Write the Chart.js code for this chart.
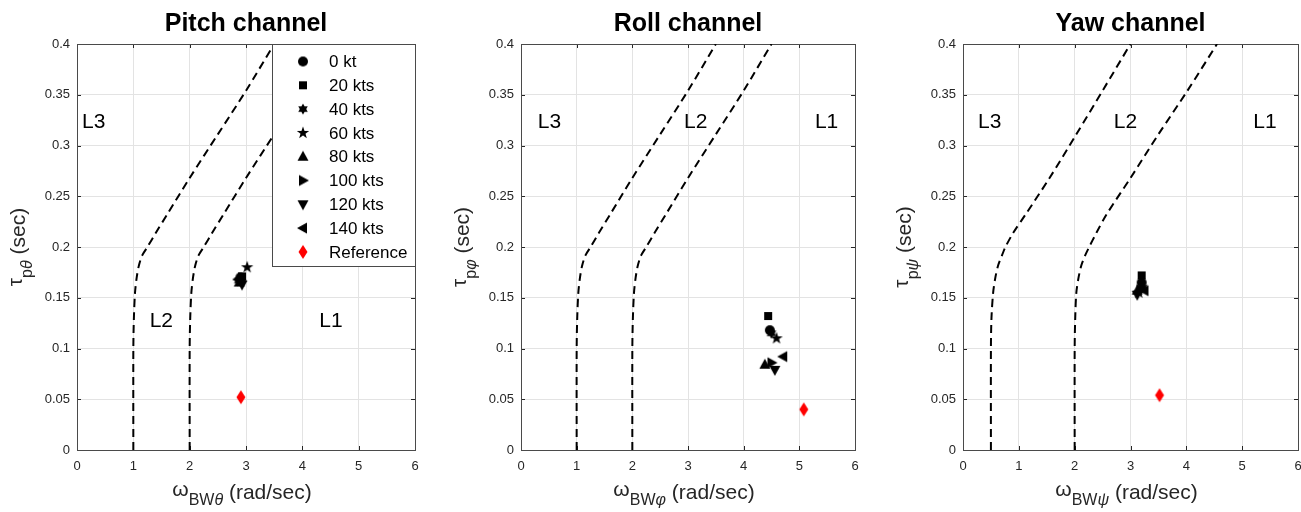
<!DOCTYPE html>
<html>
<head>
<meta charset="utf-8">
<script src="https://cdn.jsdelivr.net/npm/chart.js@4.4.0/dist/chart.umd.min.js"></script>
<style>
  html, body { margin: 0; padding: 0; background: #fff; }
  body { width: 1301px; height: 512px; position: relative; overflow: hidden; }
  .panel { position: absolute; top: 0; height: 512px; }
</style>
</head>
<body>
<div class="panel" style="left:0;width:430px"><canvas id="pitchChart" width="430" height="512"></canvas></div>
<div class="panel" style="left:440px;width:430px"><canvas id="rollChart" width="430" height="512"></canvas></div>
<div class="panel" style="left:880px;width:433px"><canvas id="yawChart" width="433" height="512"></canvas></div>
<script>
// flight speeds (one marker each)
const speedLabels = ['0 kt', '20 kts', '40 kts', '60 kts', '80 kts', '100 kts', '120 kts', '140 kts'];
const speedShapes = ['circle', 'square', 'hexagram', 'pentagram', 'triUp', 'triRight', 'triDown', 'triLeft'];

// bandwidth (rad/sec) and phase delay (sec) per speed
const pitchBW = [2.90, 2.93, 2.87, 3.02, 2.88, 2.91, 2.93, 2.86];
const pitchTau = [0.170, 0.171, 0.167, 0.180, 0.165, 0.167, 0.163, 0.168];
const rollBW = [4.47, 4.44, 4.50, 4.59, 4.38, 4.50, 4.56, 4.71];
const rollTau = [0.118, 0.132, 0.115, 0.110, 0.084, 0.086, 0.079, 0.092];
const yawBW = [3.20, 3.20, 3.22, 3.15, 3.12, 3.18, 3.12, 3.25];
const yawTau = [0.165, 0.172, 0.160, 0.155, 0.157, 0.158, 0.153, 0.157];

// reference point: pitch, roll, yaw
const refBW = [2.91, 5.08, 3.52];
const refTau = [0.052, 0.040, 0.054];

// level boundaries, x read at these tau values
const boundaryTau = [0, 0.10, 0.13, 0.155, 0.17, 0.182, 0.192, 0.20, 0.214, 0.232, 0.268, 0.311, 0.354, 0.40];
const pitchL3L2 = [1, 1, 1.01, 1.03, 1.06, 1.10, 1.16, 1.25, 1.40, 1.60, 2.0, 2.5, 3.0, 3.5];
const pitchL2L1 = [2, 2, 2.01, 2.03, 2.06, 2.10, 2.16, 2.25, 2.40, 2.60, 3.0, 3.5, 4.0, 4.5];
const rollL3L2 = [1, 1, 1.01, 1.03, 1.06, 1.10, 1.16, 1.25, 1.40, 1.60, 2.0, 2.5, 3.0, 3.5];
const rollL2L1 = [2, 2, 2.01, 2.03, 2.06, 2.10, 2.16, 2.25, 2.40, 2.60, 3.0, 3.5, 4.0, 4.5];
const yawL3L2 = [0.5, 0.5, 0.51, 0.54, 0.58, 0.63, 0.70, 0.76, 0.90, 1.12, 1.55, 2.03, 2.5, 3.0];
const yawL2L1 = [2, 2, 2.01, 2.03, 2.07, 2.12, 2.19, 2.26, 2.39, 2.57, 3.0, 3.5, 4.02, 4.55];

const xTicks = [0, 1, 2, 3, 4, 5, 6];
const yTicks = [0, 0.05, 0.1, 0.15, 0.2, 0.25, 0.3, 0.35, 0.4];

const FONT = '"Liberation Sans", Arial, Helvetica, sans-serif';
const INK = '#262626';

function makeMarker(shape, color) {
    const c = document.createElement('canvas');
    c.width = 16; c.height = 16;
    const g = c.getContext('2d');
    g.fillStyle = color;
    g.translate(8, 8);
    g.beginPath();
    const star = (n, ro, ri) => {
        for (let i = 0; i < 2 * n; i++) {
            const a = -Math.PI / 2 + i * Math.PI / n;
            const r = i % 2 ? ri : ro;
            g.lineTo(r * Math.cos(a), r * Math.sin(a));
        }
        g.closePath();
    };
    const poly = pts => { pts.forEach(p => g.lineTo(p[0], p[1])); g.closePath(); };
    switch (shape) {
        case 'circle': g.arc(0, 0, 5, 0, Math.PI * 2); break;
        case 'square': g.rect(-4, -4, 8, 8); break;
        case 'hexagram': star(6, 5.5, 3.2); break;
        case 'pentagram': star(5, 6.5, 2.6); break;
        case 'triUp': poly([[0, -6], [5.5, 4], [-5.5, 4]]); break;
        case 'triDown': poly([[0, 6], [5.5, -4], [-5.5, -4]]); break;
        case 'triRight': poly([[6, 0], [-4, -5.5], [-4, 5.5]]); break;
        case 'triLeft': poly([[-6, 0], [4, -5.5], [4, 5.5]]); break;
        case 'diamond': poly([[0, -7], [4.5, 0], [0, 7], [-4.5, 0]]); break;
    }
    g.fill();
    return c;
}

const speedMarkers = speedShapes.map(s => makeMarker(s, '#000'));
const refMarker = makeMarker('diamond', '#ff0000');

// draws a run of text pieces (main text + subscripts) centred on 0
function drawRich(ctx, parts) {
    let total = 0;
    parts.forEach(p => { ctx.font = p.font; p.w = ctx.measureText(p.t).width; total += p.w; });
    let x = -total / 2;
    parts.forEach(p => {
        ctx.font = p.font;
        ctx.fillText(p.t, x, p.dy || 0);
        x += p.w;
    });
}

const decorPlugin = {
    id: 'decor',
    beforeDatasetsDraw(chart, args, opts) {
        const ctx = chart.ctx;
        const a = chart.chartArea;
        const xs = chart.scales.x, ys = chart.scales.y;
        ctx.save();
        ctx.strokeStyle = INK;
        ctx.lineWidth = 1;
        ctx.beginPath();
        xTicks.forEach(v => {
            const px = Math.round(xs.getPixelForValue(v)) + 0.5;
            ctx.moveTo(px, a.bottom); ctx.lineTo(px, a.bottom - 4);
            ctx.moveTo(px, a.top); ctx.lineTo(px, a.top + 4);
        });
        yTicks.forEach(v => {
            const py = Math.round(ys.getPixelForValue(v)) + 0.5;
            ctx.moveTo(a.left, py); ctx.lineTo(a.left + 4, py);
            ctx.moveTo(a.right, py); ctx.lineTo(a.right - 4, py);
        });
        ctx.stroke();
        ctx.strokeStyle = '#4a4a4a';
        ctx.strokeRect(Math.round(a.left) + 0.5, Math.round(a.top) + 0.5,
            Math.round(a.right - a.left), Math.round(a.bottom - a.top));
        ctx.restore();
    },
    afterDraw(chart, args, opts) {
        const ctx = chart.ctx;
        const a = chart.chartArea;
        const xs = chart.scales.x, ys = chart.scales.y;
        const cx = (a.left + a.right) / 2;
        ctx.save();
        ctx.fillStyle = '#000';
        ctx.textBaseline = 'alphabetic';

        // title
        ctx.textAlign = 'center';
        ctx.font = 'bold 25px ' + FONT;
        ctx.fillText(opts.title, cx, 31);

        // level labels
        ctx.font = '21px ' + FONT;
        ctx.textAlign = 'left';
        ctx.textBaseline = 'middle';
        opts.levels.forEach(l => {
            ctx.fillText(l.t, xs.getPixelForValue(l.x), ys.getPixelForValue(l.y));
        });
        ctx.textBaseline = 'alphabetic';
        ctx.textAlign = 'left';

        // x axis label
        ctx.fillStyle = INK;
        ctx.save();
        ctx.translate(cx - 4, 499);
        drawRich(ctx, [
            { t: 'ω', font: '21px ' + FONT, dy: -3 },
            { t: 'BW', font: '16px ' + FONT, dy: 6 },
            { t: opts.sym, font: 'italic 16px ' + FONT, dy: 6 },
            { t: ' (rad/sec)', font: '21px ' + FONT, dy: 0 }
        ]);
        ctx.restore();

        // y axis label
        ctx.save();
        ctx.translate(a.left - 52, (a.top + a.bottom) / 2);
        ctx.rotate(-Math.PI / 2);
        drawRich(ctx, [
            { t: 'τ', font: '21px ' + FONT, dy: -3 },
            { t: 'p', font: '16px ' + FONT, dy: 7 },
            { t: opts.sym, font: 'italic 16px ' + FONT, dy: 7 },
            { t: ' (sec)', font: '21px ' + FONT, dy: 0 }
        ]);
        ctx.restore();

        // legend box
        if (opts.legend) {
            const w = 143, h = 222;
            const lx = Math.round(a.right) - w, ly = Math.round(a.top);
            ctx.fillStyle = '#fff';
            ctx.fillRect(lx, ly, w, h);
            ctx.strokeStyle = '#4a4a4a';
            ctx.lineWidth = 1;
            ctx.strokeRect(lx + 0.5, ly + 0.5, w, h);
            ctx.font = '17px ' + FONT;
            ctx.fillStyle = '#000';
            ctx.textBaseline = 'middle';
            const labels = speedLabels.concat(['Reference']);
            const marks = speedMarkers.concat([refMarker]);
            labels.forEach((t, i) => {
                const ry = ly + 17.5 + i * 23.8;
                ctx.drawImage(marks[i], lx + 31 - 8, ry - 8);
                ctx.fillText(t, lx + 57, ry + 1);
            });
        }
        ctx.restore();
    }
};

function pts(xv, yv) {
    return xv.map((x, i) => ({ x: x, y: yv[i] }));
}

function buildChart(canvasId, cfg) {
    const datasets = [];
    cfg.boundaries.forEach(b => {
        datasets.push({
            data: pts(b, boundaryTau),
            showLine: true,
            borderColor: '#000',
            borderWidth: 2,
            borderDash: [8, 5],
            pointRadius: 0,
            tension: 0.3,
            order: 3
        });
    });
    speedLabels.forEach((lab, i) => {
        datasets.push({
            label: lab,
            data: [{ x: cfg.bw[i], y: cfg.tau[i] }],
            pointStyle: speedMarkers[i],
            pointRadius: 5,
            order: 2
        });
    });
    datasets.push({
        label: 'Reference',
        data: [{ x: refBW[cfg.ref], y: refTau[cfg.ref] }],
        pointStyle: refMarker,
        pointRadius: 5,
        order: 1
    });

    return new Chart(document.getElementById(canvasId).getContext('2d'), {
        type: 'scatter',
        data: { datasets: datasets },
        options: {
            responsive: false,
            animation: false,
            devicePixelRatio: 1,
            layout: { padding: { top: 44, right: cfg.padRight, left: 0, bottom: 0 } },
            plugins: {
                legend: { display: false },
                tooltip: { enabled: false },
                decor: cfg.decor
            },
            scales: {
                x: {
                    type: 'linear', min: 0, max: 6,
                    afterBuildTicks: s => { s.ticks = xTicks.map(v => ({ value: v })); },
                    afterFit: s => { s.height = 62; s.paddingLeft = 0; s.paddingRight = 0; },
                    grid: { color: '#e3e3e3', drawTicks: false },
                    border: { display: false },
                    ticks: { padding: 9, color: INK, font: { family: FONT, size: 13 }, maxRotation: 0 }
                },
                y: {
                    type: 'linear', min: 0, max: 0.4,
                    afterBuildTicks: s => { s.ticks = yTicks.map(v => ({ value: v })); },
                    afterFit: s => { s.width = cfg.yWidth; s.paddingTop = 0; s.paddingBottom = 0; },
                    grid: { color: '#e3e3e3', drawTicks: false },
                    border: { display: false },
                    ticks: {
                        padding: 7, color: INK, font: { family: FONT, size: 13 },
                        callback: v => String(Number(v.toFixed(2)))
                    }
                }
            }
        },
        plugins: [decorPlugin]
    });
}

buildChart('pitchChart', {
    bw: pitchBW, tau: pitchTau, ref: 0,
    boundaries: [pitchL3L2, pitchL2L1],
    yWidth: 77, padRight: 15,
    decor: {
        title: 'Pitch channel', sym: 'θ', legend: true,
        levels: [{ t: 'L3', x: 0.09, y: 0.323 }, { t: 'L2', x: 1.29, y: 0.127 }, { t: 'L1', x: 4.3, y: 0.127 }]
    }
});

buildChart('rollChart', {
    bw: rollBW, tau: rollTau, ref: 1,
    boundaries: [rollL3L2, rollL2L1],
    yWidth: 81, padRight: 15,
    decor: {
        title: 'Roll channel', sym: 'φ', legend: false,
        levels: [{ t: 'L3', x: 0.3, y: 0.323 }, { t: 'L2', x: 2.93, y: 0.323 }, { t: 'L1', x: 5.28, y: 0.323 }]
    }
});

buildChart('yawChart', {
    bw: yawBW, tau: yawTau, ref: 2,
    boundaries: [yawL3L2, yawL2L1],
    yWidth: 83, padRight: 15,
    decor: {
        title: 'Yaw channel', sym: 'ψ', legend: false,
        levels: [{ t: 'L3', x: 0.27, y: 0.323 }, { t: 'L2', x: 2.7, y: 0.323 }, { t: 'L1', x: 5.2, y: 0.323 }]
    }
});
</script>
</body>
</html>
